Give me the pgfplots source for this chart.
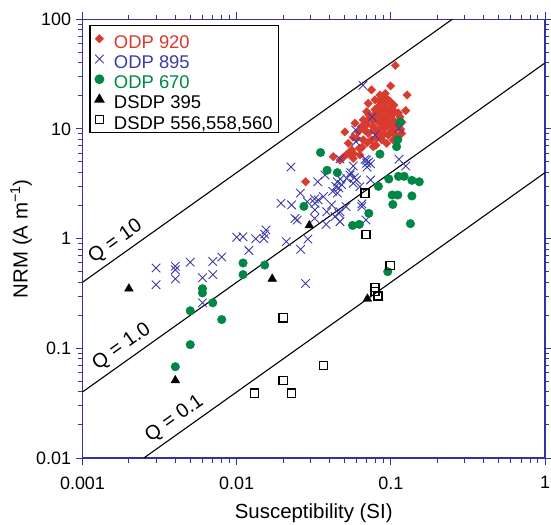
\documentclass[border=0pt]{standalone}
\usepackage{fontspec}
\setmainfont{Liberation Sans}
\usepackage{pgfplots}
\pgfplotsset{compat=1.18}
\definecolor{axblue}{RGB}{50,50,165}
\definecolor{odpred}{RGB}{217,59,46}
\definecolor{odpblue}{RGB}{60,60,170}
\definecolor{odpgreen}{RGB}{0,135,70}
\begin{document}
\begin{tikzpicture}
\begin{axis}[
  name=ax,
  xmode=log, ymode=log,
  scale only axis, width=462.5bp, height=438.7bp,
  xmin=0.001, xmax=1, ymin=0.01, ymax=100,
  xtick={0.001,0.01,0.1,1}, xticklabels={0.001,0.01,0.1,1},
  ytick={0.01,0.1,1,10,100}, yticklabels={0.01,0.1,1,10,100},
  minor xtick={0.002,0.003,0.004,0.005,0.006,0.007,0.008,0.009,0.02,0.03,0.04,0.05,0.06,0.07,0.08,0.09,0.2,0.3,0.4,0.5,0.6,0.7,0.8,0.9},
  minor ytick={0.02,0.03,0.04,0.05,0.06,0.07,0.08,0.09,0.2,0.3,0.4,0.5,0.6,0.7,0.8,0.9,2,3,4,5,6,7,8,9,20,30,40,50,60,70,80,90},
  tick align=outside,
  major tick length=7bp, minor tick length=4.5bp,
  axis line style={axblue, line width=1.2bp},
  every tick/.style={axblue, line width=1bp},
  ticklabel style={font=\fontsize{18}{20}\selectfont},
  xticklabel style={yshift=-8bp},
  yticklabel style={xshift=-1bp},
  xlabel={Susceptibility (SI)},
  ylabel={NRM (A m\textsuperscript{−1})},
  xlabel style={font=\fontsize{20.5}{22}\selectfont, inner sep=0pt, at={(axis description cs:0.5,0)}, anchor=base, yshift=-60bp},
  ylabel style={font=\fontsize{20.5}{22}\selectfont, inner sep=0pt, at={(axis description cs:-0.109,0.5)}, anchor=south},
  legend image code/.code={\draw[mark repeat=2,mark phase=2,#1] plot coordinates {(0bp,0bp) (7bp,0bp) (14bp,0bp)};},
  legend style={at={(axis description cs:0,1)}, anchor=north west, xshift=7bp, yshift=-5.7bp,
    draw=black, line width=1.2bp, font=\fontsize{18.5}{18.5}\selectfont,
    inner xsep=5bp, inner ysep=3bp, row sep=0bp,
    nodes={inner ysep=0bp, inner xsep=1bp, text height=19.45bp, text depth=0.8bp},
    /tikz/every odd column/.append style={column sep=9.2bp}},
  legend cell align=left,
]
% Q lines (NRM = Q * k * 40 A/m)
\addplot[black, line width=1.1bp, forget plot] coordinates {(0.001,0.4) (0.25,100)};
\addplot[black, line width=1.1bp, forget plot] coordinates {(0.001,0.04) (1,40)};
\addplot[black, line width=1.1bp, forget plot] coordinates {(0.0025,0.01) (1,4)};

% ODP 920
\addplot[only marks, mark=square*, mark size=3.0bp, color=odpred, mark options={rotate=45, line width=0.3bp}] coordinates {
(0.107,38) (0.0997,24.7) (0.1276,20.4) (0.075,22.7) (0.125,14.7) (0.0714,17.1) (0.085,20.4) (0.094,19.0)
(0.0697,14.4) (0.0585,11.3) (0.0662,12.1) (0.0503,9.4) (0.057,8.4) (0.053,7.4) (0.0557,6.44) (0.0423,5.59)
(0.049,5.5) (0.0624,6.67) (0.0769,6.9) (0.094,7.4) (0.1038,7.95) (0.1175,9.1) (0.109,10.5) (0.1146,12.9)
(0.0916,17.1) (0.101,16.0) (0.0828,16.0) (0.0789,18.4) (0.085,13.9) (0.094,12.5) (0.0828,11.6) (0.101,11.3)
(0.0916,10.2) (0.0769,10.5) (0.0714,9.1) (0.0828,9.1) (0.0963,8.8) (0.0662,7.95) (0.0873,7.95) (0.080,7.1)
(0.0731,12.5) (0.0646,10.5) (0.0615,9.4) (0.075,7.95) (0.0986,13.9) (0.106,14.4) (0.0893,14.9)
(0.028,3.3) (0.0468,5.2) (0.0543,5.83) (0.057,5.4) (0.063,5.8) (0.116,9.9) (0.0571,5.97)
(0.078,13.5) (0.088,12.0) (0.092,15.5) (0.097,13.0) (0.104,12.0) (0.110,11.0) (0.085,10.0) (0.09,9.0)
(0.1,9.5) (0.095,11.0) (0.079,15.0) (0.086,17.5) (0.099,17.8) (0.105,16.5) (0.081,8.3) (0.07,11.0)
(0.068,9.7) (0.104,10.0) (0.112,14.0) (0.088,8.6) (0.076,12.0) (0.072,13.5) (0.083,12.8) (0.09,13.2)
(0.098,10.8) (0.087,19.0) (0.092,21.0) (0.102,13.5) (0.108,8.6) (0.118,11.5) (0.06,8.2) (0.065,6.8)
(0.07,7.5) (0.052,5.9) (0.095,15.0) (0.081,13.0) (0.1,12.3) (0.089,11.2) (0.077,9.8) (0.105,9.2)
};
\addlegendentry{\textcolor{odpred}{ODP 920}}

% ODP 895
\addplot[only marks, mark=x, mark size=6bp, color=odpblue, line width=0.9bp] coordinates {
(0.003,0.54) (0.003,0.38) (0.004,0.56) (0.004,0.52) (0.004,0.43) (0.005,0.61) (0.006,0.44) (0.006,0.26)
(0.007,0.62) (0.007,0.47) (0.008,0.68)
(0.010,1.03) (0.011,1.04) (0.012,0.78) (0.0133,1.0) (0.015,1.0) (0.0152,1.1) (0.0155,1.2)
(0.021,0.94) (0.026,0.8) (0.029,0.99) (0.028,0.39)
(0.0194,2.1) (0.0227,2.03) (0.0259,2.6) (0.0239,1.53) (0.0247,1.48) (0.0287,2.17) (0.0225,4.5)
(0.0336,3.3) (0.0320,2.3) (0.0322,2.1) (0.0338,2.25) (0.0365,2.42) (0.0322,1.83) (0.0384,1.76)
(0.0413,2.03) (0.0434,1.59) (0.0468,1.76) (0.0468,1.43) (0.0374,3.81) (0.032,1.53) (0.038,1.35)
(0.069,1.48) (0.0649,2.07)
(0.042,2.7) (0.044,3.0) (0.045,3.3) (0.046,2.9) (0.047,3.5) (0.048,3.1) (0.045,2.6)
(0.0543,3.81) (0.06,3.43) (0.063,2.98) (0.0517,3.55) (0.0697,4.87) (0.0648,1.96) (0.0512,1.96) (0.0461,1.7)
(0.057,3.2) (0.055,4.0) (0.058,3.6)
(0.066,25) (0.0757,12.9) (0.0591,9.8) (0.0789,8.8) (0.113,10.1) (0.0594,7.66) (0.0468,5.33) (0.057,4.6)
(0.0697,5.2) (0.068,5.3) (0.072,5.0) (0.074,4.8) (0.070,4.5) (0.113,5.3) (0.125,4.6) (0.074,3.43)
};
\addlegendentry{\textcolor{odpblue}{ODP 895}}

% ODP 670
\addplot[only marks, mark=*, mark size=4.3bp, color=odpgreen] coordinates {
(0.115,11.6) (0.111,8.0) (0.109,6.9) (0.085,5.9) (0.035,6.1) (0.0386,4.2) (0.045,4.0) (0.097,3.5)
(0.112,3.7) (0.122,3.7) (0.137,3.4) (0.153,3.3) (0.083,3.0) (0.102,2.5) (0.111,2.5) (0.137,2.45)
(0.103,2.05) (0.0273,1.97) (0.072,1.7) (0.0565,1.32) (0.0625,1.35) (0.134,1.37) (0.0955,0.5)
(0.0152,0.575) (0.011,0.6) (0.011,0.47) (0.006,0.35) (0.006,0.32) (0.007,0.26) (0.008,0.183)
(0.005,0.22) (0.005,0.108) (0.004,0.068)
};
\addlegendentry{\textcolor{odpgreen}{ODP 670}}

% DSDP 395
\addplot[only marks, mark=triangle*, mark size=5bp, color=black] coordinates {
(0.002,0.35) (0.004,0.051) (0.017,0.43) (0.0296,1.32) (0.0705,0.283)
};
\addlegendentry{DSDP 395}

% DSDP 556,558,560
\addplot[only marks, mark=square, mark size=4.1bp, color=black, line width=1.3bp] coordinates {
(0.068,2.6) (0.069,1.09) (0.099,0.57) (0.079,0.36) (0.079,0.33) (0.0825,0.30)
(0.02,0.19) (0.0367,0.07) (0.02,0.051) (0.0131,0.039) (0.0227,0.039)
};
\addlegendentry{DSDP 556,558,560}

% Q labels
\node[anchor=south, rotate=35.4, inner sep=5bp, font=\fontsize{20}{22}\selectfont] at (axis cs:0.00185,0.74) {Q = 10};
\node[anchor=south, rotate=35.4, inner sep=5bp, font=\fontsize{20}{22}\selectfont] at (axis cs:0.00203,0.0811) {Q = 1.0};
\node[anchor=south, rotate=35.4, inner sep=5bp, font=\fontsize{20}{22}\selectfont] at (axis cs:0.00447,0.0179) {Q = 0.1};
\end{axis}
\pgfresetboundingbox
\path (ax.south west) ++(-82.5bp,-66bp) coordinate (bl);
\path (ax.north east) ++(6bp,19.3bp) coordinate (tr);
\path[use as bounding box] (bl) rectangle (tr);
\end{tikzpicture}
\end{document}
